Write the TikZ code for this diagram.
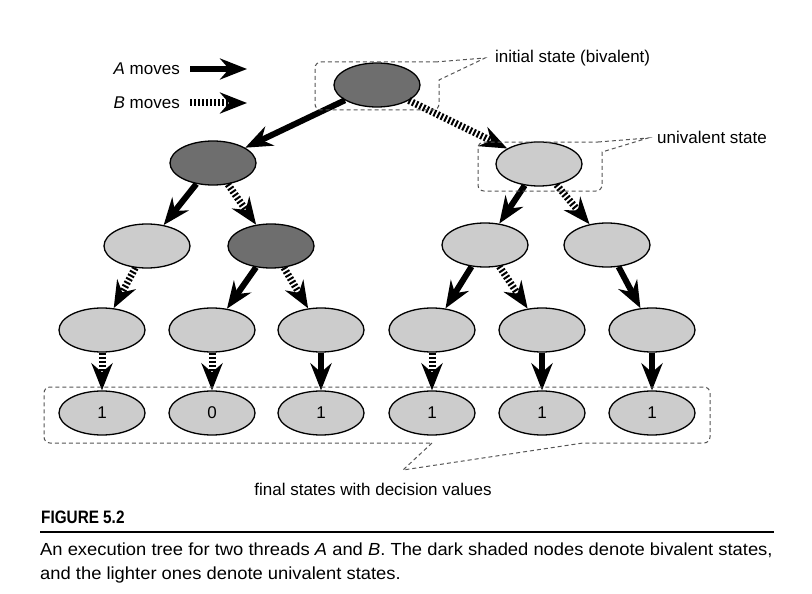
\documentclass[tikz,border=0pt]{standalone}
\usepackage{fontspec}
\setmainfont{Liberation Sans}
\newfontfamily\capbold[FakeStretch=0.85]{Liberation Sans Bold}
\newfontfamily\capfont[FakeStretch=1.05]{Liberation Sans}
\usetikzlibrary{shapes.geometric,arrows.meta}
\definecolor{darknode}{HTML}{6E6E6E}
\definecolor{lightnode}{HTML}{CCCCCC}
\definecolor{boxgray}{HTML}{555555}
\tikzset{
  state/.style={ellipse, draw=black, line width=1.3pt, minimum width=86pt, minimum height=44pt, inner sep=0pt, font=\fontsize{17}{20}\selectfont},
  bival/.style={state, fill=darknode},
  unival/.style={state, fill=lightnode},
  amove/.style={line width=6pt, -{Stealth[length=27pt,width=21pt,inset=9pt]}},
  bmove/.style={line width=7pt, dash pattern=on 2pt off 2pt, -{Stealth[length=27pt,width=21pt,inset=9pt]}},
  callout/.style={draw=boxgray, line width=1pt, dash pattern=on 4pt off 3pt},
  lbl/.style={font=\fontsize{17}{20}\selectfont, inner sep=0pt}
}
\begin{document}
\begin{tikzpicture}[x=1pt,y=-1pt]
\useasboundingbox (0,0) rectangle (812,594);
% nodes
\node[bival] (r) at (377,85) {};
\node[bival] (a) at (213,163) {};
\node[unival] (b) at (539,164) {};
\node[unival] (aa) at (147,246) {};
\node[bival] (ab) at (271,246) {};
\node[unival] (ba) at (485,245) {};
\node[unival] (bb) at (607,245) {};
\node[unival] (c1) at (102,330) {};
\node[unival] (c2) at (212,330) {};
\node[unival] (c3) at (321,330) {};
\node[unival] (c4) at (432,330) {};
\node[unival] (c5) at (542,330) {};
\node[unival] (c6) at (652,330) {};
\node[unival] (f1) at (102,413) {1};
\node[unival] (f2) at (212,413) {0};
\node[unival] (f3) at (321,413) {1};
\node[unival] (f4) at (432,413) {1};
\node[unival] (f5) at (542,413) {1};
\node[unival] (f6) at (652,413) {1};
% edges
\draw[amove] (r) -- (a);
\draw[bmove] (r) -- (b);
\draw[amove] (a) -- (aa);
\draw[bmove] (a) -- (ab);
\draw[amove] (b) -- (ba);
\draw[bmove] (b) -- (bb);
\draw[bmove] (aa) -- (c1);
\draw[amove] (ab) -- (c2);
\draw[bmove] (ab) -- (c3);
\draw[amove] (ba) -- (c4);
\draw[bmove] (ba) -- (c5);
\draw[amove] (bb) -- (c6);
\draw[bmove] (c1) -- (f1);
\draw[bmove] (c2) -- (f2);
\draw[amove] (c3) -- (f3);
\draw[bmove] (c4) -- (f4);
\draw[amove] (c5) -- (f5);
\draw[amove] (c6) -- (f6);
% legend
\node[lbl, anchor=east] (la) at (180,69) {\textit{A} moves};
\node[lbl, anchor=east] (lb) at (180,103) {\textit{B} moves};
\coordinate (la1) at (190,69);
\coordinate (la2) at (247,69);
\coordinate (lb1) at (190,103);
\coordinate (lb2) at (247,103);
\draw[amove] (la1) -- (la2);
\draw[bmove] (lb1) -- (lb2);
% callout boxes
\draw[callout] (435,62) -- (485,58) -- (439,80) [rounded corners=6pt] -- (439,110) -- (315,110) -- (315,62) [sharp corners] -- (435,62);
\node[lbl, anchor=west] (t1) at (495,58) {initial state (bivalent)};
\draw[callout] (598,142) -- (648,138) -- (602,152) [rounded corners=6pt] -- (602,191) -- (478,191) -- (478,142) [sharp corners] -- (598,142);
\node[lbl, anchor=west] (t2) at (657,137) {univalent state};
\draw[callout] (432,443) -- (403,470) -- (583,443) [rounded corners=6pt] -- (710,443) -- (710,387) -- (44,387) -- (44,443) [sharp corners] -- (432,443);
\node[lbl] (t3) at (373,489) {final states with decision values};
% caption
\node[anchor=base west, inner sep=0pt, font=\capbold\fontsize{18}{20}\selectfont] (fig) at (41,523) {FIGURE 5.2};
\coordinate (rl) at (40,532);
\coordinate (rr) at (774,532);
\draw[line width=1.3pt] (rl) -- (rr);
\node[anchor=base west, inner sep=0pt, font=\capfont\fontsize{17.5}{20}\selectfont] (cap1) at (40,555) {An execution tree for two threads \textit{A} and \textit{B}. The dark shaded nodes denote bivalent states,};
\node[anchor=base west, inner sep=0pt, font=\capfont\fontsize{17.5}{20}\selectfont] (cap2) at (40,579) {and the lighter ones denote univalent states.};
\end{tikzpicture}
\end{document}
